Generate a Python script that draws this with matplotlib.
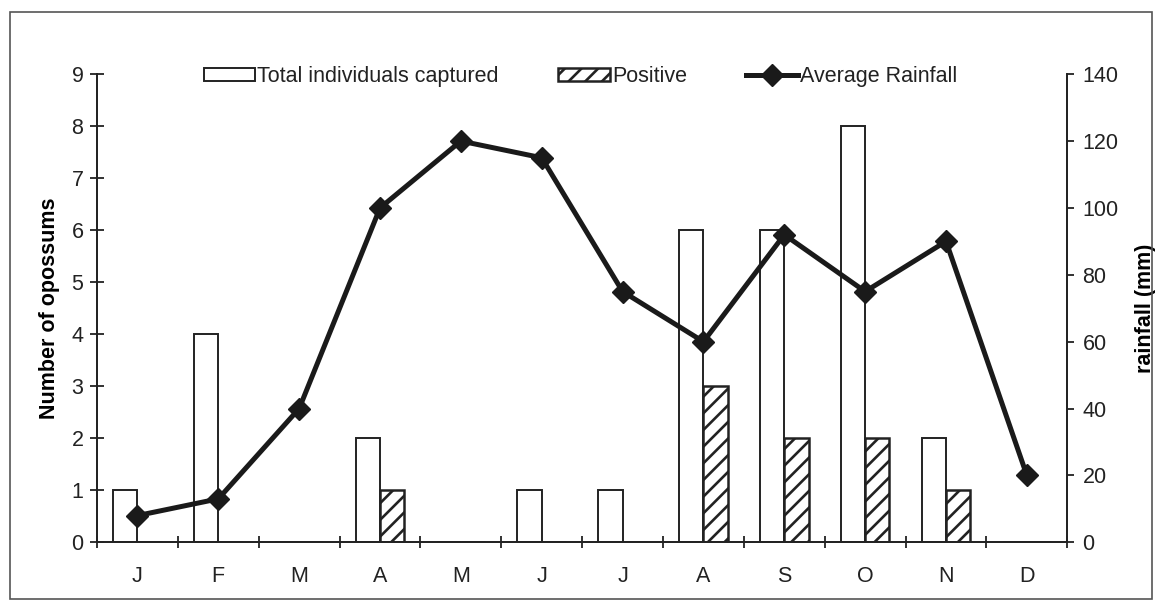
import numpy as np
import matplotlib.pyplot as plt
from matplotlib.patches import Rectangle

plt.rcParams['font.family'] = ['Liberation Sans', 'DejaVu Sans']
plt.rcParams['hatch.linewidth'] = 1.9
plt.rcParams['text.color'] = '#222222'
plt.rcParams['xtick.color'] = '#222222'
plt.rcParams['ytick.color'] = '#222222'

months = ['J', 'F', 'M', 'A', 'M', 'J', 'J', 'A', 'S', 'O', 'N', 'D']
total = [1, 4, 0, 2, 0, 1, 1, 6, 6, 8, 2, 0]
positive = [0, 0, 0, 1, 0, 0, 0, 3, 2, 2, 1, 0]
rainfall = [8, 13, 40, 100, 120, 115, 75, 60, 92, 75, 90, 20]

fs = 15.5
fig = plt.figure(figsize=(11.62, 6.08), dpi=100)
ax = fig.add_axes([0.0835, 0.108, 0.835, 0.77])
ax2 = ax.twinx()

x = np.arange(len(months))
w = 0.3
ax.bar(x - w / 2, total, w, color='white', edgecolor='#222222', linewidth=1.4,
       label='Total individuals captured', zorder=2)
ax.bar(x + w / 2, positive, w, color='white', edgecolor='#222222', linewidth=1.8,
       hatch='//', label='Positive', zorder=2)
ax2.plot(x, rainfall, color='#1a1a1a', linewidth=3.6, marker='D', markersize=11,
         label='Average Rainfall', zorder=3)

ax.set_xlim(-0.5, 11.5)
ax.set_ylim(0, 9)
ax2.set_ylim(0, 140)
ax.set_yticks(range(0, 10))
ax2.set_yticks(range(0, 141, 20))
ax.set_xticks(x)
ax.set_xticklabels(months)
ax.set_xticks(np.arange(-0.5, 12, 1), minor=True)
ax.tick_params(axis='x', which='major', length=0, pad=17, labelsize=fs)
ax.tick_params(axis='x', which='minor', direction='inout', length=9, width=1.3)
ax.tick_params(axis='y', direction='inout', length=9.5, width=1.3, labelsize=fs, pad=5)
ax2.tick_params(axis='y', direction='out', length=5, width=1.3, labelsize=fs, pad=6)

for a in (ax, ax2):
    a.spines['top'].set_visible(False)
    for s in ('left', 'right', 'bottom'):
        a.spines[s].set_linewidth(1.3)
        a.spines[s].set_color('#222222')

ax.set_ylabel('Number of opossums', fontsize=fs, fontweight='bold', labelpad=8)
ax2.set_ylabel('rainfall (mm)', fontsize=fs, fontweight='bold', labelpad=12)

h1, l1 = ax.get_legend_handles_labels()
h2, l2 = ax2.get_legend_handles_labels()
fig.legend(h1 + h2, l1 + l2, loc='upper center', bbox_to_anchor=(0.4995, 0.923), ncol=3,
           frameon=False, fontsize=fs, handlelength=2.4, handleheight=0.55,
           handletextpad=0.1, columnspacing=2.75)

fig.patches.append(Rectangle((0.009, 0.015), 0.982, 0.965, transform=fig.transFigure,
                             fill=False, edgecolor='#555555', linewidth=1.2))

fig.savefig('out.png', dpi=100)
